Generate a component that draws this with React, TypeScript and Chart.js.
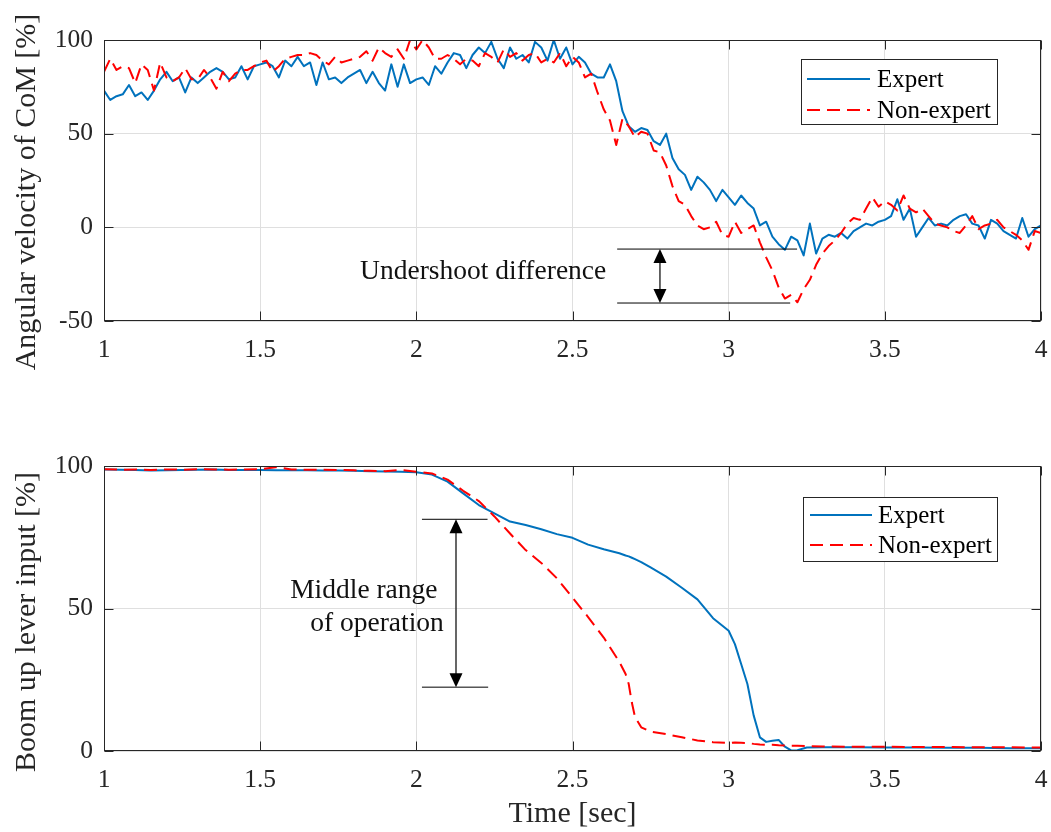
import { useEffect, useRef } from "react";
import { Chart, registerables } from "chart.js";

Chart.register(...registerables);

const FONT_FAMILY = '"Liberation Serif", "Times New Roman", Times, serif';
const INK = "#262626";
const GRID = "#dfdfdf";
const EXPERT_COLOR = "#0072bd";
const NON_EXPERT_COLOR = "#ff0000";
const DASH = [13, 7];

const SERIES_LABELS = ["Expert", "Non-expert"];
const X_TICKS = [1, 1.5, 2, 2.5, 3, 3.5, 4];
const COM_Y_TICKS = [-50, 0, 50, 100];
const LEVER_Y_TICKS = [0, 50, 100];

// Angular velocity of CoM [%], sampled every 20 ms
const comTime = [
  1.0, 1.02, 1.04, 1.06, 1.08, 1.1, 1.12, 1.14, 1.16, 1.18,
  1.2, 1.22, 1.24, 1.26, 1.28, 1.3, 1.32, 1.34, 1.36, 1.38,
  1.4, 1.42, 1.44, 1.46, 1.48, 1.5, 1.52, 1.54, 1.56, 1.58,
  1.6, 1.62, 1.64, 1.66, 1.68, 1.7, 1.72, 1.74, 1.76, 1.78,
  1.8, 1.82, 1.84, 1.86, 1.88, 1.9, 1.92, 1.94, 1.96, 1.98,
  2.0, 2.02, 2.04, 2.06, 2.08, 2.1, 2.12, 2.14, 2.16, 2.18,
  2.2, 2.22, 2.24, 2.26, 2.28, 2.3, 2.32, 2.34, 2.36, 2.38,
  2.4, 2.42, 2.44, 2.46, 2.48, 2.5, 2.52, 2.54, 2.56, 2.58,
  2.6, 2.62, 2.64, 2.66, 2.68, 2.7, 2.72, 2.74, 2.76, 2.78,
  2.8, 2.82, 2.84, 2.86, 2.88, 2.9, 2.92, 2.94, 2.96, 2.98,
  3.0, 3.02, 3.04, 3.06, 3.08, 3.1, 3.12, 3.14, 3.16, 3.18,
  3.2, 3.22, 3.24, 3.26, 3.28, 3.3, 3.32, 3.34, 3.36, 3.38,
  3.4, 3.42, 3.44, 3.46, 3.48, 3.5, 3.52, 3.54, 3.56, 3.58,
  3.6, 3.62, 3.64, 3.66, 3.68, 3.7, 3.72, 3.74, 3.76, 3.78,
  3.8, 3.82, 3.84, 3.86, 3.88, 3.9, 3.92, 3.94, 3.96, 3.98,
  4.0,
];

const comExpert = [
  73, 68, 70, 71, 76, 70, 72, 68, 73, 79,
  83, 78, 80, 72, 80, 77, 80, 83, 85, 83,
  79, 80, 86, 79, 86, 87, 88, 86, 80, 89,
  86, 91, 86, 88, 76, 88, 79, 80, 77, 80,
  82, 84, 77, 83, 77, 73, 87, 75, 87, 77,
  79, 80, 76, 86, 82, 88, 93, 92, 85, 92,
  96, 93, 99, 90, 85, 96, 90, 92, 88, 99,
  96, 89, 100, 90, 96, 87, 91, 88, 82, 80,
  80, 87, 78, 62, 54, 51, 53, 52, 46, 44,
  50, 37, 31, 28, 20, 27, 24, 20, 14, 20,
  16, 12, 17, 13, 10, 1, 3, -5, -9, -12,
  -5, -7, -15, 2, -14, -6, -4, -5, -3, -6,
  -2, 0, 2, 1, 3, 4, 6, 15, 4, 10,
  -5, 0, 5, 1, 2, 1, 4, 6, 7, 2,
  1, -6, 4, 2, -2, -4, -6, 5, -5, -1,
  1,
];

const comNonExpert = [
  83, 90, 84, 86, 85, 77, 87, 84, 73, 88,
  80, 78, 80, 85, 79, 79, 84, 80, 74, 83,
  78, 82, 84, 84, 86, 88, 89, 83, 86, 90,
  91, 92, 92, 93, 92, 89, 87, 91, 88, 89,
  90, 91, 94, 89, 96, 93, 91, 95, 90, 100,
  95, 100, 96, 90, 90, 92, 90, 87, 90, 89,
  86, 93, 91, 88, 95, 91, 93, 89, 92, 93,
  88, 90, 88, 93, 86, 91, 88, 80, 82, 72,
  63, 57, 44, 58, 54, 48, 51, 50, 41, 40,
  33, 22, 14, 12, 6, 1, -1, 0, 3, -4,
  -5, 3, -3, -1, 1, -8, -16, -23, -32, -38,
  -36, -40, -33, -28, -20, -14, -10, -7, -3, 2,
  5, 4, 10, 16, 11, 14, 12, 9, 17, 10,
  8, 10, 6, 2, 1, 0, -2, -3, 1, 6,
  -1, 1, 2, 4, 0, -2, -4, -7, -12, -2,
  -3,
];

// Boom up lever input [%]
const leverTime = [
  1.0, 1.05, 1.1, 1.15, 1.2, 1.25, 1.3, 1.35, 1.4, 1.45,
  1.5, 1.55, 1.6, 1.65, 1.7, 1.75, 1.8, 1.85, 1.9, 1.95,
  2.0, 2.05, 2.1, 2.15, 2.2, 2.25, 2.3, 2.35, 2.4, 2.45,
  2.5, 2.55, 2.6, 2.65, 2.67, 2.68, 2.69, 2.7, 2.72, 2.75,
  2.8, 2.85, 2.9, 2.95, 3.0, 3.02, 3.04, 3.06, 3.08, 3.1,
  3.12, 3.14, 3.16, 3.18, 3.2, 3.22, 3.25, 3.3, 3.4, 3.5,
  3.6, 3.7, 3.8, 3.9, 4.0,
];

const leverExpert = [
  98.8, 98.7, 98.6, 98.4, 98.5, 98.6, 98.7, 98.8, 98.6, 98.6,
  98.6, 98.5, 98.5, 98.5, 98.4, 98.4, 98.3, 98.2, 98.1, 98.0,
  97.8, 97.0, 94.5, 90.4, 86.3, 83.4, 80.5, 79.3, 77.8, 76.1,
  74.8, 72.4, 70.8, 69.4, 68.6, 68.3, 67.8, 67.3, 66.3, 64.4,
  61.2, 57.3, 53.2, 46.6, 42.2, 37.5, 30.5, 23.5, 12.5, 4.8,
  3.2, 3.6, 3.9, 1.5, 0.2, 0.3, 1.2, 1.3, 1.3, 1.2,
  1.2, 1.1, 1.1, 1.0, 1.0,
];

const leverNonExpert = [
  98.9, 98.7, 98.8, 98.6, 98.8, 98.7, 98.9, 98.8, 98.7, 98.8,
  98.9, 99.6, 98.8, 98.7, 98.7, 98.6, 98.5, 98.3, 98.2, 98.6,
  98.0, 97.4, 95.2, 91.3, 87.7, 82.3, 76.3, 70.5, 66.0, 60.6,
  53.8, 47.0, 39.8, 31.3, 27.0, 23.5, 17.0, 12.0, 8.3, 6.8,
  5.9, 4.8, 3.7, 3.1, 2.8, 3.0, 2.9, 2.8, 2.5, 2.3,
  2.2, 2.2, 2.0, 1.9, 1.8, 1.8, 1.7, 1.6, 1.5, 1.5,
  1.4, 1.4, 1.3, 1.3, 1.2,
];

// Annotation geometry, in data units
const undershootBracket = { xStart: 2.643, xEndUpper: 3.219, xEndLower: 3.197, yUpper: -11.6, yLower: -40.4, arrowX: 2.78 };
const undershootText = [{ text: "Undershoot difference", x: 1.82, y: -27.8 }];
const middleBracket = { xStart: 2.018, xEndUpper: 2.228, xEndLower: 2.23, yUpper: 81.3, yLower: 22.4, arrowX: 2.127 };
const middleText = [
  { text: "Middle range", x: 1.596, y: 53.7 },
  { text: "of operation", x: 1.66, y: 42.1 },
];

type Bracket = typeof undershootBracket;
type Label = { text: string; x: number; y: number };

interface PanelSpec {
  time: number[];
  expert: number[];
  nonExpert: number[];
  yMin: number;
  yMax: number;
  yTicks: number[];
  height: number;
  padTop: number;
  xAxisHeight: number;
  yTitle: string;
  yTitleCenter: number;
  xTitle?: { text: string; baseline: number };
  legend: { x: number; y: number; w: number; h: number; lineX0: number; lineX1: number; textX: number; rows: number[] };
  bracket: Bracket;
  labels: Label[];
}

function arrowHead(ctx: CanvasRenderingContext2D, x: number, tipY: number, dir: number) {
  const len = 14;
  const half = 6.5;
  ctx.beginPath();
  ctx.moveTo(x, tipY);
  ctx.lineTo(x - half, tipY + dir * len);
  ctx.lineTo(x + half, tipY + dir * len);
  ctx.closePath();
  ctx.fill();
}

function buildChart(canvas: HTMLCanvasElement, spec: PanelSpec) {
  const decorations = {
    id: "panelDecorations",
    afterDatasetsDraw(chart: any) {
      const { ctx, chartArea: a, scales } = chart;
      const xs = scales.x;
      const ys = scales.y;
      ctx.save();

      // annotation brackets and double arrow
      const b = spec.bracket;
      const yU = ys.getPixelForValue(b.yUpper);
      const yL = ys.getPixelForValue(b.yLower);
      ctx.strokeStyle = "#000";
      ctx.lineWidth = 1;
      ctx.beginPath();
      ctx.moveTo(xs.getPixelForValue(b.xStart), yU);
      ctx.lineTo(xs.getPixelForValue(b.xEndUpper), yU);
      ctx.moveTo(xs.getPixelForValue(b.xStart), yL);
      ctx.lineTo(xs.getPixelForValue(b.xEndLower), yL);
      ctx.stroke();
      const ax = xs.getPixelForValue(b.arrowX);
      ctx.strokeStyle = INK;
      ctx.lineWidth = 1.4;
      ctx.beginPath();
      ctx.moveTo(ax, yU + 10);
      ctx.lineTo(ax, yL - 10);
      ctx.stroke();
      ctx.fillStyle = "#000";
      arrowHead(ctx, ax, yU, 1);
      arrowHead(ctx, ax, yL, -1);

      ctx.font = `27.5px ${FONT_FAMILY}`;
      ctx.textAlign = "left";
      ctx.textBaseline = "alphabetic";
      ctx.fillStyle = "#111";
      spec.labels.forEach((l) => {
        ctx.fillText(l.text, xs.getPixelForValue(l.x), ys.getPixelForValue(l.y));
      });

      // axes box with inward tick marks
      const L = Math.round(a.left) + 0.5;
      const R = Math.round(a.right) - 0.5;
      const T = Math.round(a.top) + 0.5;
      const B = Math.round(a.bottom) - 0.5;
      const tick = 9;
      ctx.strokeStyle = INK;
      ctx.lineWidth = 1;
      ctx.strokeRect(L, T, R - L, B - T);
      ctx.beginPath();
      X_TICKS.forEach((v) => {
        const px = Math.round(xs.getPixelForValue(v)) + 0.5;
        ctx.moveTo(px, B);
        ctx.lineTo(px, B - tick);
        ctx.moveTo(px, T);
        ctx.lineTo(px, T + tick);
      });
      spec.yTicks.forEach((v) => {
        const py = Math.round(ys.getPixelForValue(v)) + 0.5;
        ctx.moveTo(L, py);
        ctx.lineTo(L + tick, py);
        ctx.moveTo(R, py);
        ctx.lineTo(R - tick, py);
      });
      ctx.stroke();
      ctx.restore();
    },
    afterDraw(chart: any) {
      const { ctx } = chart;
      ctx.save();

      // legend box
      const lg = spec.legend;
      ctx.fillStyle = "#fff";
      ctx.fillRect(lg.x, lg.y, lg.w, lg.h);
      ctx.strokeStyle = INK;
      ctx.lineWidth = 1;
      ctx.strokeRect(Math.round(lg.x) + 0.5, Math.round(lg.y) + 0.5, lg.w, lg.h);
      chart.data.datasets.forEach((ds: any, i: number) => {
        const y = lg.rows[i];
        ctx.strokeStyle = ds.borderColor;
        ctx.lineWidth = ds.borderWidth;
        ctx.setLineDash(ds.borderDash || []);
        ctx.beginPath();
        ctx.moveTo(lg.lineX0, y);
        ctx.lineTo(lg.lineX1, y);
        ctx.stroke();
        ctx.setLineDash([]);
        ctx.fillStyle = "#000";
        ctx.font = `25px ${FONT_FAMILY}`;
        ctx.textAlign = "left";
        ctx.textBaseline = "middle";
        ctx.fillText(ds.label, lg.textX, y + 1);
      });

      // axis titles
      ctx.fillStyle = INK;
      ctx.font = `30px ${FONT_FAMILY}`;
      ctx.textAlign = "center";
      ctx.textBaseline = "alphabetic";
      ctx.save();
      ctx.translate(35, spec.yTitleCenter);
      ctx.rotate(-Math.PI / 2);
      ctx.fillText(spec.yTitle, 0, 0);
      ctx.restore();
      if (spec.xTitle) {
        const a = chart.chartArea;
        ctx.fillText(spec.xTitle.text, (a.left + a.right) / 2, spec.xTitle.baseline);
      }
      ctx.restore();
    },
  };

  const tickFont = { family: FONT_FAMILY, size: 25.5 };

  return new Chart(canvas, {
    type: "line",
    data: {
      datasets: [
        {
          label: SERIES_LABELS[0],
          data: spec.time.map((t, i) => ({ x: t, y: spec.expert[i] })),
          borderColor: EXPERT_COLOR,
          borderWidth: 2,
          pointRadius: 0,
          borderJoinStyle: "round",
          fill: false,
          clip: 0,
          order: 1,
        },
        {
          label: SERIES_LABELS[1],
          data: spec.time.map((t, i) => ({ x: t, y: spec.nonExpert[i] })),
          borderColor: NON_EXPERT_COLOR,
          borderWidth: 2,
          borderDash: DASH,
          pointRadius: 0,
          borderJoinStyle: "round",
          fill: false,
          clip: 0,
          order: 0,
        },
      ],
    },
    options: {
      responsive: false,
      animation: false,
      devicePixelRatio: 1,
      events: [],
      layout: { padding: { top: spec.padTop, right: 10, left: 0, bottom: 0 } },
      plugins: { legend: { display: false }, tooltip: { enabled: false } },
      scales: {
        x: {
          type: "linear",
          min: 1,
          max: 4,
          afterBuildTicks: (s: any) => {
            s.ticks = X_TICKS.map((v) => ({ value: v }));
          },
          afterFit: (s: any) => {
            s.height = spec.xAxisHeight;
            s.paddingLeft = 0;
            s.paddingRight = 0;
          },
          grid: { color: GRID, lineWidth: 1, drawTicks: false },
          border: { display: false },
          ticks: {
            color: INK,
            font: tickFont,
            padding: 14,
            maxRotation: 0,
            autoSkip: false,
            callback: (v: any) => String(v),
          },
        },
        y: {
          type: "linear",
          min: spec.yMin,
          max: spec.yMax,
          afterBuildTicks: (s: any) => {
            s.ticks = spec.yTicks.map((v) => ({ value: v }));
          },
          afterFit: (s: any) => {
            s.width = 104;
            s.paddingTop = 0;
            s.paddingBottom = 0;
          },
          grid: { color: GRID, lineWidth: 1, drawTicks: false },
          border: { display: false },
          ticks: {
            color: INK,
            font: tickFont,
            padding: 11,
            autoSkip: false,
            callback: (v: any) => String(v),
          },
        },
      },
    },
    plugins: [decorations],
  } as any);
}

const topPanel: PanelSpec = {
  time: comTime,
  expert: comExpert,
  nonExpert: comNonExpert,
  yMin: -50,
  yMax: 100,
  yTicks: COM_Y_TICKS,
  height: 400,
  padTop: 40,
  xAxisHeight: 79,
  yTitle: "Angular velocity of CoM [%]",
  yTitleCenter: 192,
  legend: { x: 801, y: 59, w: 196, h: 65, lineX0: 807, lineX1: 870, textX: 877, rows: [79, 110] },
  bracket: undershootBracket,
  labels: undershootText,
};

const bottomPanel: PanelSpec = {
  time: leverTime,
  expert: leverExpert,
  nonExpert: leverNonExpert,
  yMin: 0,
  yMax: 100,
  yTicks: LEVER_Y_TICKS,
  height: 432,
  padTop: 66,
  xAxisHeight: 81,
  yTitle: "Boom up lever input [%]",
  yTitleCenter: 222,
  xTitle: { text: "Time [sec]", baseline: 422 },
  legend: { x: 803, y: 97, w: 194, h: 64, lineX0: 810, lineX1: 872, textX: 878, rows: [115, 145] },
  bracket: middleBracket,
  labels: middleText,
};

export default function App() {
  const topRef = useRef<HTMLCanvasElement>(null);
  const bottomRef = useRef<HTMLCanvasElement>(null);

  useEffect(() => {
    const charts = [buildChart(topRef.current!, topPanel), buildChart(bottomRef.current!, bottomPanel)];
    return () => charts.forEach((c) => c.destroy());
  }, []);

  return (
    <div style={{ position: "absolute", left: 0, top: 0, width: 1051, height: 832, background: "#fff" }}>
      <canvas ref={topRef} width={1051} height={topPanel.height} style={{ position: "absolute", left: 0, top: 0 }} />
      <canvas ref={bottomRef} width={1051} height={bottomPanel.height} style={{ position: "absolute", left: 0, top: 400 }} />
    </div>
  );
}
